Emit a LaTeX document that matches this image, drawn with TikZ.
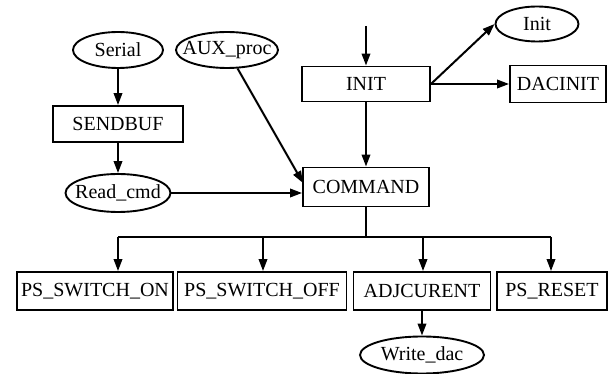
\documentclass[tikz,border=0pt]{standalone}
\usepackage{fontspec}
\setmainfont{Liberation Serif}
\usetikzlibrary{arrows.meta,shapes.geometric}
\begin{document}
\begin{tikzpicture}[x=1pt,y=-1pt,
  every node/.style={font=\fontsize{20}{23}\selectfont, inner sep=0pt, line width=1.9pt},
  box/.style={draw, rectangle, minimum height=37pt},
  oval/.style={draw, ellipse, inner xsep=-30pt, inner ysep=-12pt, minimum height=36pt},
  conn/.style={line width=2pt, -{Triangle[length=12pt,width=8.5pt]}},
  line/.style={line width=2pt}]
\useasboundingbox (0,0) rectangle (614,374);
\node[oval, minimum width=90pt] (serial) at (118,50) {Serial};
\node[oval, minimum width=102pt] (aux) at (227,50) {AUX\_proc};
\node[box, minimum width=130pt, minimum height=36pt] (sendbuf) at (118,124) {SENDBUF};
\node[oval, minimum width=105pt, minimum height=38pt] (read) at (118,193) {Read\_cmd};
\node[box, minimum width=128pt, minimum height=35pt] (initbox) at (366,84) {INIT};
\node[oval, minimum width=83pt, minimum height=35pt] (initE) at (537,24) {Init};
\node[box, minimum width=96pt] (dac) at (558,84) {DACINIT};
\node[box, minimum width=126pt, minimum height=39pt] (cmd) at (366,187) {COMMAND};
\node[box, minimum width=156pt, minimum height=38pt] (swon) at (95,291) {PS\_SWITCH\_ON};
\node[box, minimum width=169pt, minimum height=38pt] (swoff) at (262,291) {PS\_SWITCH\_OFF};
\node[box, minimum width=137pt, minimum height=38pt] (adj) at (422,291) {ADJCURENT};
\node[box, minimum width=110pt, minimum height=38pt] (reset) at (552,291) {PS\_RESET};
\node[oval, minimum width=124pt, minimum height=37pt] (wd) at (422,355) {Write\_dac};
\coordinate (top) at (366,26);
\coordinate (auxend) at (303,183);
\coordinate (bus) at (366,237);
\coordinate (b1) at (118,237);
\coordinate (b2) at (263,237);
\coordinate (b3) at (423,237);
\coordinate (b4) at (551,237);
\draw[conn] (serial) -- (sendbuf);
\draw[conn] (sendbuf) -- (read);
\draw[conn] (read.east) -- (read.east -| cmd.west);
\draw[conn] (aux) -- (auxend);
\draw[conn] (top) -- (initbox.north);
\draw[conn] (initbox.east) -- (initE.west);
\draw[conn] (initbox.east) -- (dac.west);
\draw[conn] (initbox) -- (cmd);
\draw[line] (cmd.south) -- (bus);
\draw[line] (b1) -- (b4);
\draw[conn] (b1) -- (b1 |- swon.north);
\draw[conn] (b2) -- (b2 |- swoff.north);
\draw[conn] (b3) -- (b3 |- adj.north);
\draw[conn] (b4) -- (b4 |- reset.north);
\draw[conn] (adj) -- (wd);
\end{tikzpicture}
\end{document}
